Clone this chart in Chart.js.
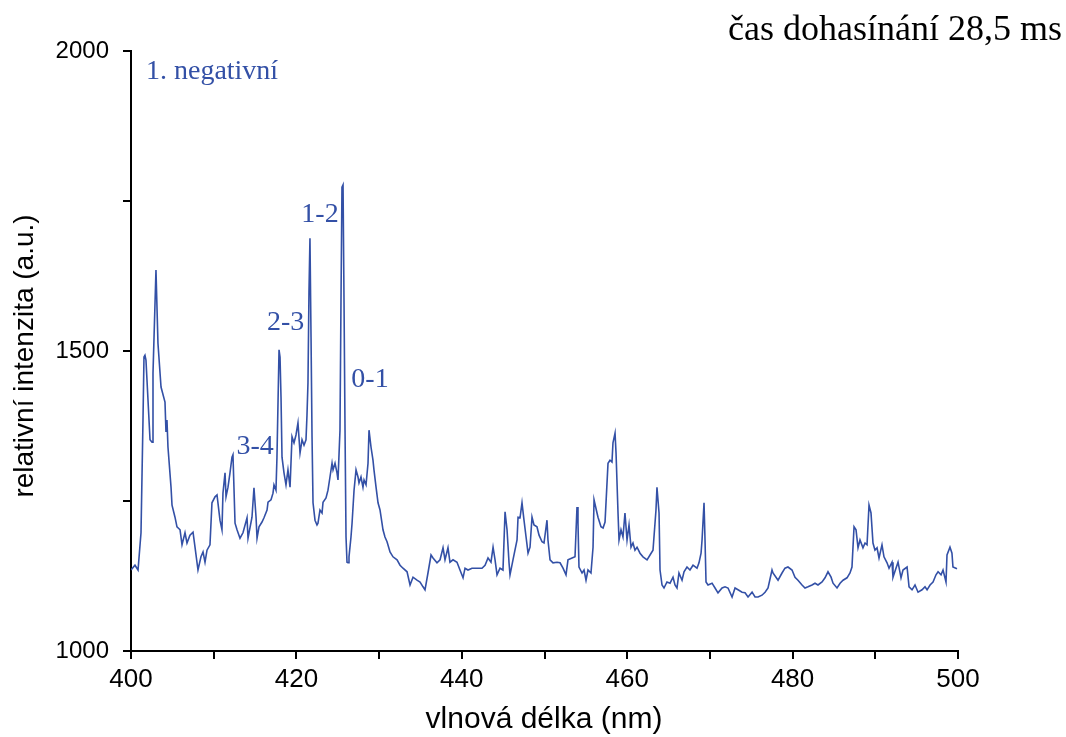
<!DOCTYPE html>
<html><head><meta charset="utf-8">
<script src="https://cdn.jsdelivr.net/npm/chart.js@4/dist/chart.umd.min.js"></script>
<style>html,body{margin:0;padding:0;background:#fff}canvas{display:block}</style>
</head><body>
<canvas id="c" width="1066" height="737"></canvas>
<script>
// wavelength (nm)
const wavelength = [
400.00,400.48,400.85,401.21,401.45,401.57,401.69,401.81,402.30,402.54,
402.66,403.02,403.26,403.63,404.11,404.23,404.35,404.47,404.84,404.96,
405.32,405.56,405.93,406.17,406.53,406.77,407.13,407.50,407.74,408.10,
408.46,408.71,408.95,409.19,409.55,409.79,410.16,410.40,410.76,411.00,
411.12,411.37,411.49,411.73,411.97,412.21,412.33,412.58,412.82,413.18,
413.54,414.03,414.15,414.63,414.87,415.12,415.24,415.48,415.84,416.08,
416.45,416.57,416.93,417.17,417.29,417.53,417.65,417.90,418.02,418.14,
418.26,418.50,418.74,418.98,419.23,419.47,419.71,419.95,420.19,420.44,
420.68,420.92,421.16,421.28,421.40,421.52,421.64,421.77,421.89,422.01,
422.25,422.49,422.61,422.85,423.10,423.22,423.58,423.82,424.06,424.31,
424.43,424.67,424.91,425.03,425.27,425.39,425.51,425.64,425.76,425.88,
426.00,426.12,426.24,426.36,426.60,426.73,426.97,427.21,427.45,427.57,
427.81,428.05,428.18,428.42,428.66,428.78,429.02,429.26,429.38,429.63,
429.87,430.11,430.35,430.47,430.71,430.96,431.32,431.68,432.17,432.53,
432.89,433.38,433.74,434.10,434.58,434.95,435.31,435.55,435.91,436.28,
436.52,437.00,437.37,437.73,437.97,438.33,438.57,438.94,439.42,439.78,
440.15,440.39,440.75,441.23,441.60,441.96,442.44,442.81,443.17,443.53,
443.78,444.02,444.26,444.62,444.98,445.23,445.47,445.71,445.83,446.19,
446.68,446.80,447.04,447.28,447.52,447.77,448.01,448.25,448.49,448.73,
449.09,449.34,449.70,449.94,450.30,450.42,450.67,451.03,451.51,451.88,
452.24,452.60,452.84,453.33,453.69,453.93,454.05,454.17,454.54,454.78,
455.02,455.26,455.62,455.87,455.99,456.35,456.47,456.83,457.08,457.32,
457.68,457.92,458.16,458.28,458.53,458.65,458.89,459.01,459.25,459.49,
459.73,459.98,460.22,460.46,460.70,460.94,461.19,461.55,461.91,462.40,
462.76,463.12,463.48,463.60,463.85,463.97,464.21,464.45,464.81,465.18,
465.54,465.78,466.02,466.26,466.63,466.87,467.23,467.59,467.96,468.44,
468.68,468.93,469.05,469.29,469.41,469.53,469.77,470.26,470.62,470.98,
471.47,471.83,472.19,472.68,473.04,473.40,473.89,474.25,474.61,475.10,
475.46,475.82,476.30,476.67,477.03,477.51,477.63,477.99,478.24,478.72,
479.08,479.44,479.93,480.29,480.65,481.14,481.50,481.86,482.35,482.71,
483.07,483.56,483.92,484.28,484.65,484.89,485.37,485.74,486.10,486.58,
486.94,487.18,487.43,487.67,487.91,488.15,488.51,488.76,489.00,489.24,
489.48,489.72,489.96,490.21,490.45,490.81,491.05,491.42,491.66,492.02,
492.14,492.50,492.75,493.11,493.35,493.84,494.08,494.44,494.80,495.17,
495.65,496.01,496.26,496.62,496.98,497.34,497.59,497.95,498.19,498.55,
498.67,499.03,499.27,499.39,499.88
];
// relative intensity (a.u.)
const intensity = [
1135,1143,1135,1197,1385,1490,1493,1485,1352,1348,
1463,1635,1513,1440,1415,1365,1385,1340,1273,1243,
1223,1207,1202,1177,1197,1180,1193,1198,1173,1135,
1157,1165,1148,1168,1177,1247,1257,1260,1218,1202,
1263,1297,1257,1273,1297,1323,1327,1213,1202,1188,
1197,1222,1188,1223,1272,1223,1188,1207,1215,1222,
1235,1248,1252,1263,1277,1268,1323,1502,1490,1423,
1323,1297,1277,1302,1273,1357,1347,1360,1380,1330,
1352,1343,1352,1393,1447,1597,1688,1523,1357,1247,
1218,1210,1213,1235,1230,1248,1255,1268,1290,1313,
1302,1313,1297,1285,1368,1580,1773,1777,1580,1368,
1190,1148,1147,1157,1190,1213,1268,1302,1290,1280,
1290,1273,1285,1277,1313,1368,1340,1318,1302,1273,
1247,1235,1213,1202,1190,1182,1165,1157,1152,1143,
1138,1132,1110,1123,1118,1115,1107,1102,1130,1160,
1155,1147,1152,1172,1152,1172,1148,1152,1148,1135,
1122,1138,1135,1138,1138,1138,1138,1143,1155,1148,
1173,1152,1127,1138,1135,1232,1202,1147,1127,1152,
1185,1223,1222,1247,1218,1190,1163,1173,1223,1210,
1207,1193,1182,1180,1218,1185,1152,1147,1148,1147,
1138,1127,1152,1155,1157,1240,1213,1140,1130,1135,
1118,1135,1130,1173,1252,1230,1223,1207,1205,1215,
1313,1318,1315,1347,1363,1330,1230,1185,1202,1190,
1230,1185,1210,1173,1180,1168,1173,1163,1157,1152,
1160,1168,1235,1273,1230,1135,1110,1105,1115,1113,
1123,1110,1105,1130,1118,1132,1140,1135,1143,1138,
1147,1163,1185,1247,1185,1115,1110,1113,1105,1097,
1105,1107,1105,1090,1105,1102,1098,1097,1090,1098,
1090,1090,1093,1098,1105,1135,1130,1123,1118,1130,
1138,1140,1135,1123,1118,1110,1105,1107,1110,1113,
1110,1115,1122,1132,1123,1113,1105,1113,1118,1122,
1130,1140,1207,1202,1172,1185,1172,1180,1177,1243,
1230,1180,1168,1172,1155,1177,1157,1147,1138,1148,
1123,1138,1148,1122,1135,1140,1107,1102,1110,1098,
1102,1107,1102,1110,1115,1127,1132,1127,1135,1115,
1160,1173,1163,1140,1137
];
const xTickValues = [400,410,420,430,440,450,460,470,480,490,500];
const xTickLabels = ['400','420','440','460','480','500'];
const yTickValues = [1000,1250,1500,1750,2000];
const yTickLabels = ['1000','1500','2000'];
const bandTexts = ['3-4','2-3','1-2','0-1'];
const bandWavelengths = [415.0,418.7,422.85,428.9];
const bandIntensities = [1340,1548,1727,1453];

const LINE = '#3350a6';
const SANS = "'Liberation Sans', Arial, sans-serif";
const SERIF = "'Liberation Serif', 'Times New Roman', serif";

const n = Math.min(wavelength.length, intensity.length);
const points = [];
for (let i = 0; i < n; i++) points.push({x: wavelength[i], y: intensity[i]});

const textPlugin = {
  id: 'texts',
  afterDraw(chart) {
    const ctx = chart.ctx;
    const xs = chart.scales.x, ys = chart.scales.y;
    ctx.save();
    ctx.fillStyle = '#000';
    ctx.font = '28px ' + SANS;
    ctx.textAlign = 'center';
    ctx.textBaseline = 'middle';
    ctx.save();
    ctx.translate(25, 356);
    ctx.rotate(-Math.PI / 2);
    ctx.fillText('relativní intenzita (a.u.)', 0, 0);
    ctx.restore();
    ctx.font = '30px ' + SANS;
    ctx.fillText('vlnová délka (nm)', 544, 720);
    ctx.font = '36px ' + SERIF;
    ctx.textAlign = 'right';
    ctx.textBaseline = 'alphabetic';
    ctx.fillText('čas dohasínání 28,5 ms', 1062, 40);
    ctx.fillStyle = LINE;
    ctx.font = '28px ' + SERIF;
    ctx.textAlign = 'center';
    ctx.textBaseline = 'middle';
    ctx.fillText('1. negativní', xs.getPixelForValue(409.8), ys.getPixelForValue(1965));
    for (let i = 0; i < bandTexts.length; i++) {
      ctx.fillText(bandTexts[i], xs.getPixelForValue(bandWavelengths[i]), ys.getPixelForValue(bandIntensities[i]));
    }
    ctx.restore();
  }
};

new Chart(document.getElementById('c'), {
  type: 'line',
  data: {
    datasets: [{
      data: points,
      borderColor: LINE,
      borderWidth: 1.6,
      pointRadius: 0,
      tension: 0,
      fill: false
    }]
  },
  options: {
    responsive: false,
    animation: false,
    devicePixelRatio: 1,
    layout: {padding: {left: 0, right: 108, top: 51, bottom: 0}},
    plugins: {legend: {display: false}, tooltip: {enabled: false}},
    scales: {
      x: {
        type: 'linear', min: 400, max: 500,
        afterBuildTicks(s) { s.ticks = xTickValues.map(v => ({value: v})); },
        afterFit(s) { s.height = 86; },
        border: {display: true, color: '#000', width: 2},
        grid: {display: true, drawOnChartArea: false, drawTicks: true, tickLength: 8, color: '#000', lineWidth: 2},
        ticks: {
          autoSkip: false, maxRotation: 0, padding: 5, color: '#000',
          font: {family: SANS, size: 26},
          callback: v => xTickLabels.includes(String(v)) ? String(v) : ''
        }
      },
      y: {
        type: 'linear', min: 1000, max: 2000,
        afterBuildTicks(s) { s.ticks = yTickValues.map(v => ({value: v})); },
        afterFit(s) { s.width = 131; },
        border: {display: true, color: '#000', width: 2},
        grid: {display: true, drawOnChartArea: false, drawTicks: true, tickLength: 8, color: '#000', lineWidth: 2},
        ticks: {
          autoSkip: false, padding: 14, color: '#000',
          font: {family: SANS, size: 24},
          callback: v => yTickLabels.includes(String(v)) ? String(v) : ''
        }
      }
    }
  },
  plugins: [textPlugin]
});
</script>
</body></html>
